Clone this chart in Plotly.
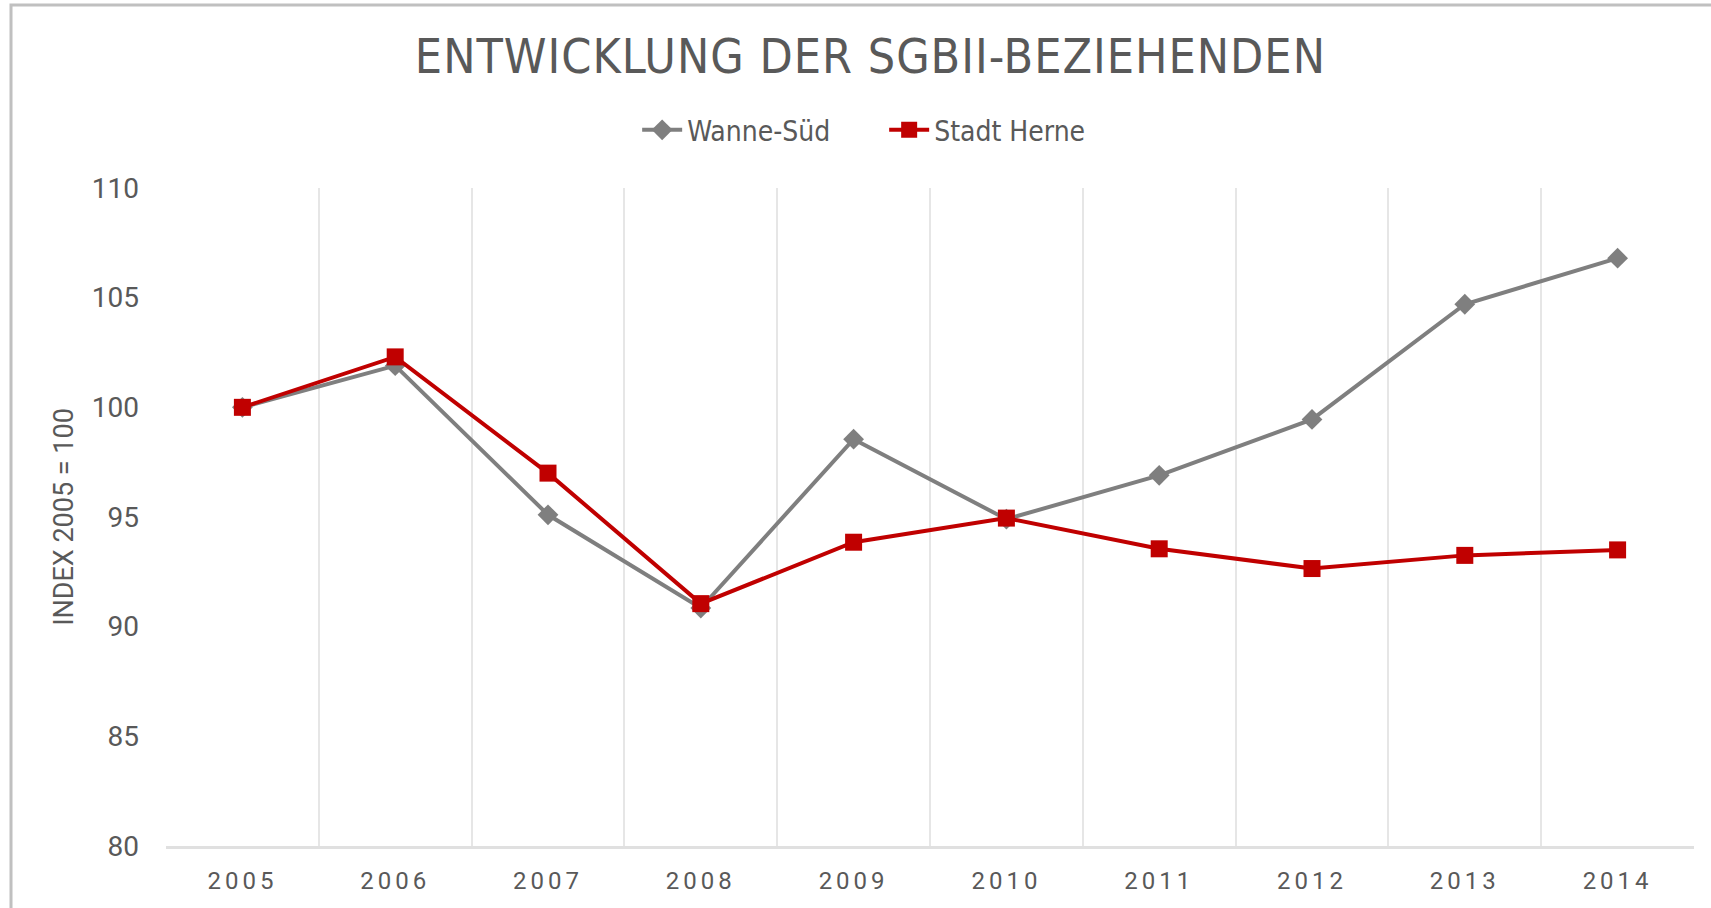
import plotly.graph_objects as go

years = ["2005", "2006", "2007", "2008", "2009", "2010", "2011", "2012", "2013", "2014"]
wanne_sued = [100.0, 101.9, 95.1, 90.85, 98.55, 94.9, 96.9, 99.45, 104.7, 106.8]
stadt_herne = [100.0, 102.3, 97.0, 91.05, 93.85, 94.95, 93.55, 92.65, 93.25, 93.5]
y_ticks = [80, 85, 90, 95, 100, 105, 110]

GRAY = "#7f7f7f"
RED = "#c00000"
TEXT = "#595959"
COND = "DejaVu Sans Condensed, Liberation Sans Narrow, Roboto, sans-serif"

fig = go.Figure()
fig.add_trace(go.Scatter(
    x=years, y=wanne_sued, name="Wanne-Süd", mode="lines+markers",
    line=dict(color=GRAY, width=4),
    marker=dict(symbol="diamond", size=16, color=GRAY),
))
fig.add_trace(go.Scatter(
    x=years, y=stadt_herne, name="Stadt Herne", mode="lines+markers",
    line=dict(color=RED, width=4),
    marker=dict(symbol="square", size=17, color=RED),
))

fig.update_layout(
    width=1711, height=908,
    margin=dict(l=166, r=17, t=188, b=62, autoexpand=False),
    paper_bgcolor="white", plot_bgcolor="white",
    title=dict(
        text="ENTWICKLUNG DER SGBII-BEZIEHENDEN",
        font=dict(family=COND, size=48, color=TEXT),
        x=0.461, xref="paper", xanchor="center",
        y=1 - 56 / 908, yref="container", yanchor="middle",
    ),
    legend=dict(
        orientation="h", x=0.470, xanchor="center", y=1.088, yanchor="middle",
        font=dict(family=COND, size=28, color=TEXT),
        itemwidth=40, tracegroupgap=0, entrywidth=192,
    ),
    xaxis=dict(
        type="category", tickson="boundaries", range=[-0.5, 9.5],
        showgrid=True, gridcolor="#e6e6e6", gridwidth=2,
        showline=True, linecolor="#e0e0e0", linewidth=3,
        ticks="", ticklabelstandoff=11, automargin=False,
        tickfont=dict(family="Roboto, sans-serif", size=24, color=TEXT),
        zeroline=False,
    ),
    yaxis=dict(
        range=[80, 110], tickvals=y_ticks, showgrid=False, zeroline=False,
        showline=False, ticks="", ticklabelstandoff=26, automargin=False,
        tickfont=dict(family="Roboto, sans-serif", size=28, color=TEXT),
        title=dict(text="INDEX 2005 = 100", standoff=10,
                   font=dict(family="Roboto, sans-serif", size=27, color=TEXT)),
    ),
    showlegend=True,
)

# outer chart border (extends beyond the visible window at right/bottom)
fig.add_shape(type="rect", xref="paper", yref="paper",
              x0=(11 - 166) / 1528, x1=1.2, y0=-0.3, y1=(846 - 5) / 658,
              line=dict(color="#c0c0c0", width=3), fillcolor="rgba(0,0,0,0)",
              layer="below")

post = """
function spacing(){
  document.querySelectorAll('.gtitle').forEach(function(e){e.style.letterSpacing='1px';});
  document.querySelectorAll('.xtick text').forEach(function(e){e.style.letterSpacing='4px';});
}
spacing();
var gd = document.getElementById('{plot_id}');
if (gd && gd.on) { gd.on('plotly_afterplot', spacing); }
"""

fig.write_html("out.html", post_script=post)
